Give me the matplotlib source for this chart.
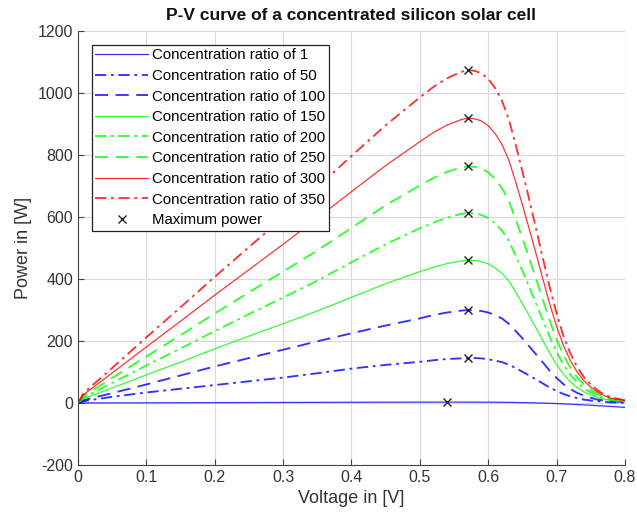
import matplotlib.pyplot as plt

plt.rcParams["font.family"] = ["Liberation Sans", "DejaVu Sans"]
plt.rcParams["axes.unicode_minus"] = False

# voltage grid (V) shared by all curves
voltage = [0, 0.008, 0.05, 0.1, 0.15, 0.2, 0.25, 0.3, 0.35, 0.4, 0.45, 0.5, 0.52, 0.54, 0.56,
           0.57, 0.58, 0.59, 0.6, 0.61, 0.62, 0.63, 0.64, 0.65, 0.66, 0.67, 0.68, 0.69, 0.7,
           0.71, 0.72, 0.73, 0.74, 0.75, 0.76, 0.77, 0.78, 0.8]

# power (W) for each concentration ratio
p_1 = [0, 0.1, 0.3, 0.6, 0.9, 1.2, 1.5, 1.8, 2.1, 2.4, 2.7, 2.9, 3.0, 3.0, 3.0,
       3.0, 2.9, 2.8, 2.7, 2.5, 2.3, 2.0, 1.7, 1.3, 0.9, 0.4, -0.2, -0.9, -1.8,
       -2.8, -3.8, -4.9, -6.0, -7.2, -8.5, -9.8, -11.2, -14]
p_50 = [0, 6, 20, 34, 46, 58, 70, 82, 96, 111, 123, 133, 138, 142, 144,
        145, 145, 144, 141, 137, 132, 124, 113, 101, 89, 76, 63, 50, 39,
        29, 22, 16, 11, 8, 6, 4, 2, 1]
p_100 = [0, 9, 32, 60, 89, 118, 145, 172, 199, 225, 250, 273, 284, 292, 298,
         300, 299, 297, 292, 284, 273, 256, 233, 209, 183, 157, 131, 104, 81,
         61, 45, 33, 24, 17, 11, 8, 5, 3]
p_150 = [0, 14, 49, 91, 132, 175, 216, 256, 297, 341, 385, 424, 438, 450, 458,
         461, 460, 456, 449, 436, 419, 394, 359, 321, 282, 242, 201, 161, 124,
         93, 69, 50, 36, 26, 18, 12, 8, 4]
p_200 = [0, 18, 65, 121, 176, 232, 287, 340, 395, 454, 512, 564, 582, 598, 610,
         613, 612, 607, 597, 580, 557, 524, 477, 427, 375, 321, 267, 213, 165,
         124, 92, 67, 48, 34, 23, 15, 10, 5]
p_250 = [0, 22, 81, 150, 219, 289, 357, 424, 492, 565, 638, 702, 726, 746, 760,
         764, 762, 756, 744, 723, 694, 653, 594, 532, 467, 401, 333, 266, 206,
         155, 115, 83, 60, 42, 29, 19, 12, 7]
p_300 = [0, 27, 97, 181, 264, 348, 430, 512, 596, 682, 766, 843, 873, 897, 914,
         919, 917, 910, 895, 870, 835, 785, 715, 640, 562, 482, 400, 320, 248,
         186, 138, 100, 72, 51, 35, 23, 15, 8]
p_350 = [0, 32, 113, 212, 309, 407, 503, 598, 696, 797, 896, 986, 1020, 1048, 1068,
         1074, 1072, 1064, 1046, 1017, 976, 917, 836, 748, 657, 563, 467, 374, 290,
         217, 161, 117, 84, 60, 41, 27, 18, 9]

ratios = [1, 50, 100, 150, 200, 250, 300, 350]

# maximum power points
mpp_v = [0.54, 0.57, 0.57, 0.57, 0.57, 0.57, 0.57, 0.57]
mpp_p = [3, 145, 300, 461, 613, 764, 919, 1074]

series = [p_1, p_50, p_100, p_150, p_200, p_250, p_300, p_350]
colors = ["#0000ff", "#0000ff", "#0000ff", "#00ff00", "#00ff00", "#00ff00", "#ff0000", "#ff0000"]
dashdot = (0, (6, 2.5, 1.5, 2.5))
dashed = (0, (7, 4))
styles = ["-", dashdot, dashed, "-", dashdot, dashed, "-", dashdot]

fig = plt.figure(figsize=(6.37, 5.18), dpi=100)
ax = fig.add_axes([0.1225, 0.1023, 0.8585, 0.8377])

for p, c, ls, r in zip(series, colors, styles, ratios):
    lw = 0.9 if ls == "-" else 1.35
    ax.plot(voltage, p, color=c, linestyle=ls, linewidth=lw, alpha=0.8,
            label=f"Concentration ratio of {r}")

ax.plot(mpp_v, mpp_p, "x", color="#222222", markersize=6, markeredgewidth=1,
        linestyle="none", label="Maximum power")

ax.set_xlim(0, 0.8)
ax.set_ylim(-200, 1200)
ax.set_xticks([0, 0.1, 0.2, 0.3, 0.4, 0.5, 0.6, 0.7, 0.8])
ax.set_xticklabels(["0", "0.1", "0.2", "0.3", "0.4", "0.5", "0.6", "0.7", "0.8"])
ax.set_yticks(range(-200, 1201, 200))

ax.grid(True, color="#d9d9d9", linewidth=0.8)
ax.set_axisbelow(True)
for s in ["top", "right"]:
    ax.spines[s].set_visible(False)
for s in ["left", "bottom"]:
    ax.spines[s].set_color("#444444")
ax.tick_params(direction="in", length=4, color="#444444", labelcolor="#333333", labelsize=11.5)

ax.set_xlabel("Voltage in [V]", fontsize=13, color="#333333")
ax.set_ylabel("Power in [W]", fontsize=13, color="#333333")
ax.set_title("P-V curve of a concentrated silicon solar cell", fontsize=12.5,
             fontweight="bold", color="#111111", pad=8)

leg = ax.legend(loc="upper left", fontsize=10.8, handlelength=3.5, labelspacing=0.44,
                borderaxespad=0.9, fancybox=False, framealpha=1, handletextpad=0.3,
                borderpad=0.25)
leg.get_frame().set_edgecolor("#222222")
leg.get_frame().set_linewidth(0.9)

plt.savefig("out.png", dpi=100)
